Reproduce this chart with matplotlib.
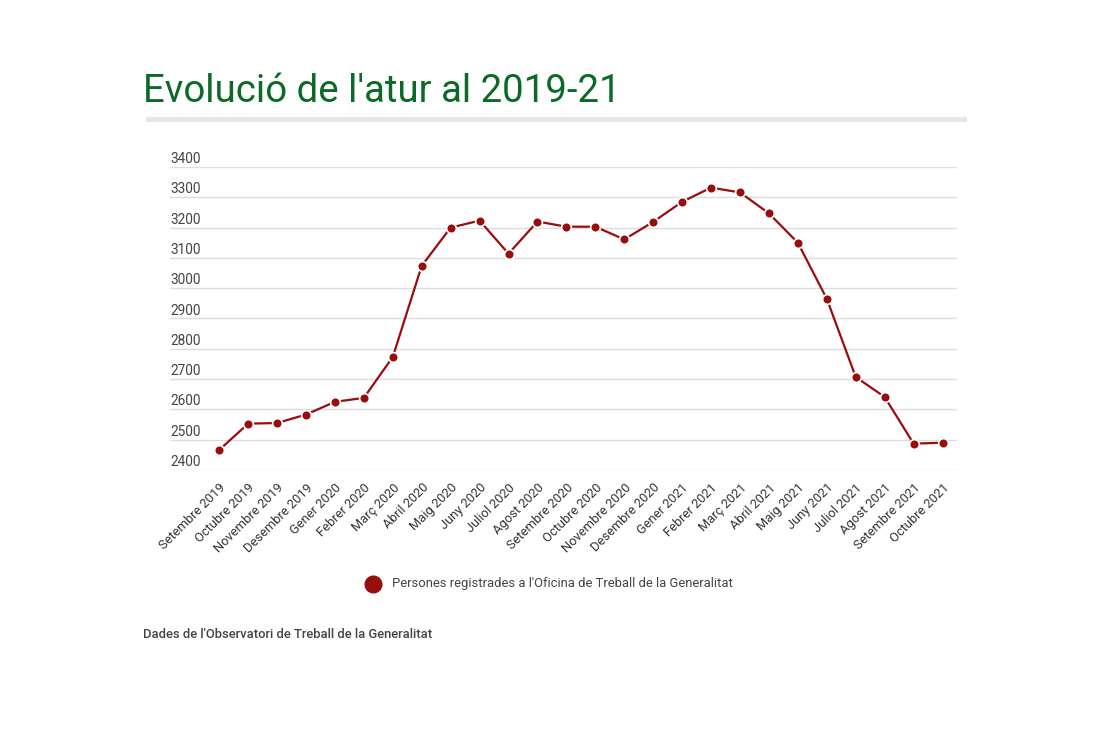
import matplotlib
matplotlib.use("Agg")
import matplotlib.pyplot as plt
from matplotlib.lines import Line2D

plt.rcParams["font.family"] = ["Roboto", "DejaVu Sans"]

months = ["Setembre 2019", "Octubre 2019", "Novembre 2019", "Desembre 2019",
          "Gener 2020", "Febrer 2020", "Març 2020", "Abril 2020", "Maig 2020",
          "Juny 2020", "Juliol 2020", "Agost 2020", "Setembre 2020", "Octubre 2020",
          "Novembre 2020", "Desembre 2020", "Gener 2021", "Febrer 2021", "Març 2021",
          "Abril 2021", "Maig 2021", "Juny 2021", "Juliol 2021", "Agost 2021",
          "Setembre 2021", "Octubre 2021"]
aturats = [2466, 2553, 2555, 2583, 2625, 2638, 2773, 3074, 3200, 3223, 3114, 3220,
           3203, 3203, 3161, 3219, 3285, 3332, 3316, 3247, 3150, 2965, 2707, 2641,
           2487, 2490]
y_ticks = [2400, 2500, 2600, 2700, 2800, 2900, 3000, 3100, 3200, 3300, 3400]

RED = "#990d0d"
GREEN = "#0b6a26"
TXT = "#444444"

W, H = 1100, 733
fig = plt.figure(figsize=(11, 7.33), dpi=100)
ax = fig.add_axes([170 / W, 1 - 470 / H, (957 - 170) / W, (470 - 167) / H])

x = list(range(len(months)))
ax.plot(x, aturats, color=RED, lw=1.6, marker="o", ms=7,
        mec="white", mew=1.2, mfc=RED, zorder=3)

ax.set_xlim(-1.7, 25.5)
ax.set_ylim(2400, 3400)
for v in y_ticks:
    ax.axhline(v, color="#dddddd", lw=1, zorder=1)
    ax.text(0, v + 3, str(v), transform=ax.get_yaxis_transform(),
            ha="left", va="bottom", fontsize=9.8, color=TXT)
ax.set_yticks([])
ax.set_xticks(x)
ax.set_xticklabels(months, rotation=45, ha="right", va="top",
                   rotation_mode="anchor", fontsize=9.3, color="#333333")
ax.tick_params(axis="x", length=0, pad=8)
for s in ax.spines.values():
    s.set_visible(False)

# title and grey rule
fig.text(143 / W, 1 - 102 / H, "Evolució de l'atur al 2019-21", fontsize=27.6,
         color=GREEN, ha="left", va="baseline")
fig.add_artist(plt.Rectangle((146 / W, 1 - 122 / H), (967 - 146) / W, 5 / H,
                             transform=fig.transFigure, color="#e6e6e6", lw=0))

# legend
fig.add_artist(Line2D([373 / W], [1 - 584 / H], marker="o", ms=12, color=RED,
                      transform=fig.transFigure))
fig.text(392 / W, 1 - 584 / H, "Persones registrades a l'Oficina de Treball de la Generalitat",
         fontsize=9.4, color=TXT, ha="left", va="center")

fig.text(143 / W, 1 - 635 / H, "Dades de l'Observatori de Treball de la Generalitat",
         fontsize=9.4, color=TXT, ha="left", va="center", fontweight="medium")

fig.savefig("out.png", dpi=100)
